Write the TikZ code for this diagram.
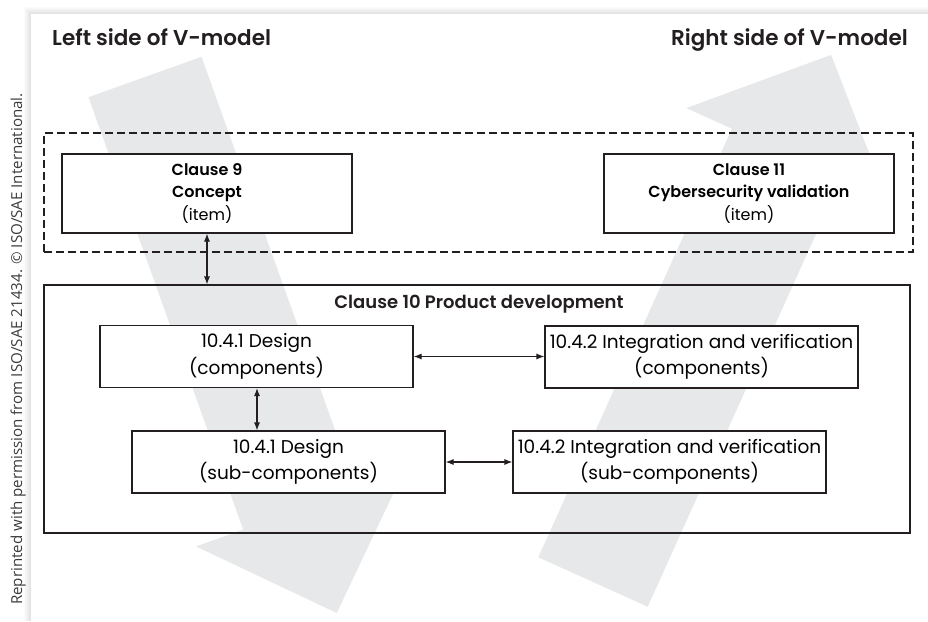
\documentclass[tikz,border=0pt]{standalone}
\usepackage{fontspec}
\setmainfont{Poppins}[BoldFont={Poppins SemiBold}]
\newfontfamily\notefont{Open Sans}
\usetikzlibrary{arrows.meta,calc}
\definecolor{vband}{HTML}{E7E8E9}
\definecolor{ink}{HTML}{231F20}
\definecolor{notegray}{HTML}{3A3A3A}
\begin{document}
\begin{tikzpicture}[x=1pt,y=-1pt,
  box/.style={draw=ink,line width=1.1pt,fill=white,inner sep=0pt,align=center,
              minimum width=313pt,minimum height=62pt,
              font=\fontsize{18.5}{26.5}\selectfont},
  clausebox/.style={draw=ink,line width=1.1pt,fill=white,inner sep=0pt,align=center,
              minimum width=290pt,minimum height=79pt,
              font=\fontsize{16}{22.5}\selectfont},
  heading/.style={font=\bfseries\fontsize{21.5}{26}\selectfont,text=ink,inner sep=0pt},
  link/.style={draw=ink,line width=1.1pt,{Latex[length=8pt,width=6pt]}-{Latex[length=8pt,width=6pt]}},
  band/.style={fill=vband,draw=none}
]
\useasboundingbox (0,0) rectangle (928,621);

% page panel with a soft shadow along its top and left edges
\foreach \i in {1,...,7}
  \fill[black,opacity=0.014] (31-\i,14-\i) rectangle (928,621);
\fill[white] (31,14) rectangle (928,621);

% copyright note
\node[rotate=90,anchor=base west,inner sep=0pt,text=notegray,
      font=\notefont\fontsize{15.1}{18}\selectfont] (note) at (22,605)
  {Reprinted with permission from ISO/SAE 21434. \textcopyright\ ISO/SAE International.};

% the two sides of the V
\fill[band] (201.5,56.8) -- (356.2,489.2) -- (403.3,472.3) -- (336.8,613)
  -- (196.1,546.5) -- (243.2,529.6) -- (88.5,97.2) -- cycle;
\fill[band] (538.3,557.3) -- (731.9,128.7) -- (686.3,108.1) -- (831.1,54.9)
  -- (886.9,198.7) -- (841.3,178.1) -- (647.7,606.7) -- cycle;

\node[heading,anchor=base west] (lefthead) at (52,45) {Left side of V-model};
\node[heading,anchor=base east] (righthead) at (908,45) {Right side of V-model};

% item level
\node[draw=ink,line width=1.1pt,dash pattern=on 8pt off 4pt,inner sep=0pt,
      minimum width=869pt,minimum height=119pt] (itemlevel) at (478.5,192.5) {};
\node[clausebox] (c9) at (207,193.5)
  {\textbf{Clause 9}\\\textbf{Concept}\\(item)};
\node[clausebox] (c11) at (749,193.5)
  {\textbf{Clause 11}\\\textbf{Cybersecurity validation}\\(item)};

% product development
\node[draw=ink,line width=1.1pt,inner sep=0pt,
      minimum width=866pt,minimum height=248pt] (pd) at (477,409) {};
\node[anchor=base,inner sep=0pt,text=ink,font=\bfseries\fontsize{18}{22}\selectfont]
  (pdtitle) at (479,308.5) {Clause 10 Product development};

\node[box] (d1) at (256.5,356.5) {10.4.1 Design\\(components)};
\node[box] (d2) at (288.5,462) {10.4.1 Design\\(sub-components)};
\node[box] (i1) at (701.5,357) {10.4.2 Integration and verification\\(components)};
\node[box] (i2) at (669.5,462) {10.4.2 Integration and verification\\(sub-components)};

% connectors
\draw[link] (d1.south -| 257,0) -- (257,0 |- d2.north);
\draw[link] (c9.south) -- (c9.south |- pd.north);
\draw[link] (d1.east) -- (d1.east -| i1.west);
\draw[link] (d2.east) -- (d2.east -| i2.west);
\end{tikzpicture}
\end{document}
